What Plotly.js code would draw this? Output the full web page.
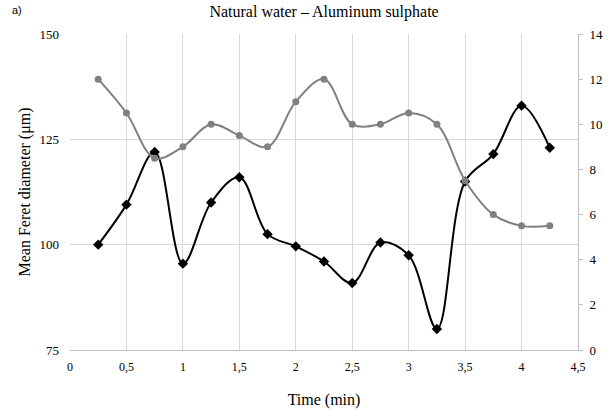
<!DOCTYPE html>
<html>
<head>
<meta charset="utf-8">
<script src="https://cdn.plot.ly/plotly-3.0.1.min.js"></script>
<style>html,body{margin:0;padding:0;background:#fff;}#chart{width:608px;height:412px;}</style>
</head>
<body>
<div id="chart"></div>
<script>
const time = [0.25, 0.5, 0.75, 1, 1.25, 1.5, 1.75, 2, 2.25, 2.5, 2.75, 3, 3.25, 3.5, 3.75, 4, 4.25];
const feretDiameter = [100, 109.5, 122, 95.5, 110, 116, 102.5, 99.6, 96, 90.9, 100.5, 97.5, 80, 115, 121.5, 133, 123];
const rightSeries = [12, 10.5, 8.5, 9, 10, 9.5, 9, 11, 12, 10, 10, 10.5, 10, 7.5, 6, 5.5, 5.5];
const xTicks = [0, 0.5, 1, 1.5, 2, 2.5, 3, 3.5, 4, 4.5];
const xTickText = ['0', '0,5', '1', '1,5', '2', '2,5', '3', '3,5', '4', '4,5'];

const serif = 'Liberation Serif';

const traces = [
  {
    x: time, y: rightSeries, yaxis: 'y2', type: 'scatter', mode: 'lines+markers',
    line: {color: '#808080', width: 2, shape: 'spline', smoothing: 1},
    marker: {symbol: 'circle', size: 7, color: '#808080'},
    showlegend: false, cliponaxis: false
  },
  {
    x: time, y: feretDiameter, type: 'scatter', mode: 'lines+markers',
    line: {color: '#000000', width: 2, shape: 'spline', smoothing: 1},
    marker: {symbol: 'diamond', size: 8, color: '#000000'},
    showlegend: false, cliponaxis: false
  }
];

const layout = {
  width: 608, height: 412,
  margin: {l: 70, r: 30, t: 34, b: 62},
  paper_bgcolor: '#ffffff', plot_bgcolor: '#ffffff',
  font: {family: serif, color: '#000'},
  title: {text: 'Natural water – Aluminum sulphate', x: 0.533, xanchor: 'center', y: 0.985, yanchor: 'top', font: {family: serif, size: 16, color: '#000'}},
  xaxis: {
    range: [0, 4.5], tickvals: xTicks, ticktext: xTickText,
    showgrid: true, gridcolor: '#d9d9d9', gridwidth: 1,
    showline: true, linecolor: '#bfbfbf', linewidth: 1, mirror: false,
    ticks: '', zeroline: false, ticklabelstandoff: 6,
    tickfont: {family: serif, size: 12, color: '#000'},
    title: {text: 'Time (min)', font: {family: serif, size: 16, color: '#000'}, standoff: 20}
  },
  yaxis: {
    range: [75, 150], tickvals: [75, 100, 125, 150],
    showgrid: true, gridcolor: '#d9d9d9', gridwidth: 1,
    showline: false, zeroline: false, ticks: '',
    tickfont: {family: serif, size: 13, color: '#000'},
    ticklabelstandoff: 10,
    title: {text: 'Mean Feret diameter (μm)', font: {family: serif, size: 16, color: '#000'}, standoff: 4}
  },
  yaxis2: {
    range: [0, 14], tickvals: [0, 2, 4, 6, 8, 10, 12, 14],
    overlaying: 'y', side: 'right',
    showgrid: false, zeroline: false,
    showline: true, linecolor: '#bfbfbf', linewidth: 1,
    ticks: 'outside', ticklen: 4, tickcolor: '#bfbfbf', ticklabelstandoff: 4,
    tickfont: {family: serif, size: 13, color: '#000'}
  },
  annotations: [
    {text: 'a)', xref: 'paper', yref: 'paper', x: -0.118, y: 1.075, xanchor: 'left', yanchor: 'middle', showarrow: false, font: {family: 'Liberation Sans', size: 11, color: '#000'}}
  ]
};

Plotly.newPlot('chart', traces, layout, {staticPlot: true, displayModeBar: false});
</script>
</body>
</html>
